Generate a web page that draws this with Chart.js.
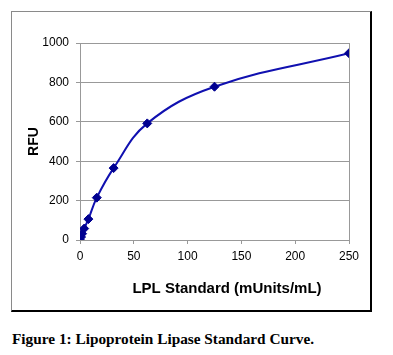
<!DOCTYPE html>
<html>
<head>
<meta charset="utf-8">
<script src="https://cdn.jsdelivr.net/npm/chart.js@4/dist/chart.umd.min.js"></script>
<style>
  html, body { margin: 0; padding: 0; background: #fff; }
  body { width: 393px; height: 355px; position: relative; overflow: hidden; }
  #frame {
    position: absolute; left: 11px; top: 11px; width: 358px; height: 298px;
    border-left: 1px solid #8a8a8a; border-top: 1px solid #8a8a8a;
    border-right: 2px solid #000; border-bottom: 2px solid #000;
  }
  #c { display: block; }
  #caption {
    position: absolute; left: 12px; top: 331px;
    font-family: "Liberation Serif", "Times New Roman", serif;
    font-weight: bold; font-size: 15.3px; line-height: 15px; color: #000; white-space: nowrap;
  }
</style>
</head>
<body>
<div id="frame"><canvas id="c" width="358" height="298"></canvas></div>
<div id="caption">Figure 1: Lipoprotein Lipase Standard Curve.</div>
<script>
// Data
const concentrations = [0, 0.98, 1.95, 3.9, 7.8, 15.6, 31.25, 62.5, 125, 250];
const rfuValues      = [0, 15, 32, 58, 106, 215, 365, 592, 778, 948];
const xTicks = [0, 50, 100, 150, 200, 250];
const yTicks = [0, 200, 400, 600, 800, 1000];
const xTitle = "LPL Standard (mUnits/mL)";
const yTitle = "RFU";

const points = concentrations.map((x, i) => ({ x: x, y: rfuValues[i] }));
const gridGray = '#999999';

new Chart(document.getElementById('c'), {
  type: 'scatter',
  data: {
    datasets: [{
      data: points,
      showLine: true,
      borderColor: '#1010b0',
      borderWidth: 2,
      tension: 0.4,
      pointStyle: 'rectRot',
      pointRadius: 4.5,
      pointBackgroundColor: '#000090',
      pointBorderColor: '#000090',
      pointBorderWidth: 1
    }]
  },
  options: {
    responsive: false,
    animation: false,
    devicePixelRatio: 1,
    layout: { padding: { top: 31, right: 21, bottom: 0, left: 0 } },
    plugins: { legend: { display: false }, tooltip: { enabled: false } },
    scales: {
      x: {
        type: 'linear',
        min: xTicks[0], max: xTicks[xTicks.length - 1],
        afterBuildTicks: (s) => { s.ticks = xTicks.map(v => ({ value: v })); },
        afterFit: (s) => { s.height = 70; },
        border: { display: true, color: gridGray, width: 1 },
        grid: {
          drawOnChartArea: true,
          color: (ctx) => (ctx.tick && ctx.tick.value === 250) ? gridGray : 'rgba(0,0,0,0)',
          tickColor: gridGray,
          tickLength: 4
        },
        ticks: {
          padding: 5,
          color: '#000',
          font: { family: 'Liberation Sans, Arial, sans-serif', size: 12 },
          maxRotation: 0,
          callback: (v) => String(v)
        },
        title: {
          display: true,
          text: '      ' + xTitle,
          color: '#000',
          font: { family: 'Liberation Sans, Arial, sans-serif', size: 15, weight: 'bold' },
          padding: { top: 0, bottom: 12 }
        }
      },
      y: {
        min: yTicks[0], max: yTicks[yTicks.length - 1],
        afterBuildTicks: (s) => { s.ticks = yTicks.map(v => ({ value: v })); },
        afterFit: (s) => { s.width = 68; },
        border: { display: true, color: gridGray, width: 1 },
        grid: { color: gridGray, tickColor: gridGray, tickLength: 4 },
        ticks: {
          padding: 7,
          color: '#000',
          font: { family: 'Liberation Sans, Arial, sans-serif', size: 12 },
          callback: (v) => String(v)
        },
        title: {
          display: true,
          text: yTitle,
          color: '#000',
          font: { family: 'Liberation Sans, Arial, sans-serif', size: 14, weight: 'bold' },
          padding: { top: 14, bottom: 0 }
        }
      }
    }
  }
});
</script>
</body>
</html>
